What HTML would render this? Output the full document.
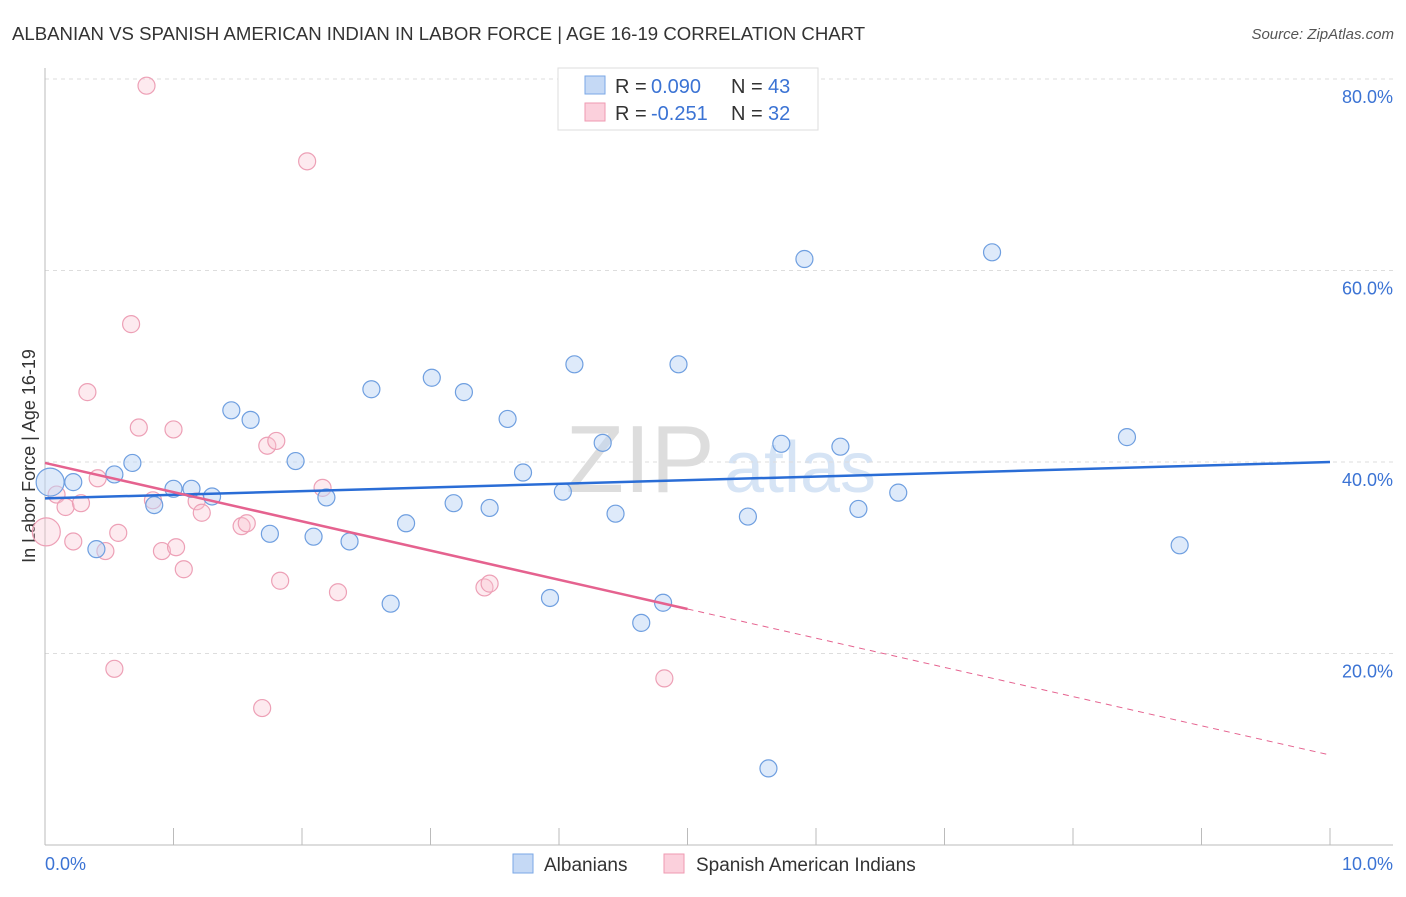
<!DOCTYPE html>
<html><head><meta charset="utf-8"><style>
body{margin:0;background:#fff;font-family:"Liberation Sans",sans-serif}
svg text{font-family:"Liberation Sans",sans-serif}
</style></head><body>
<svg id="c" width="1406" height="892" xmlns="http://www.w3.org/2000/svg">
<text x="12" y="40" font-size="18.6" fill="#333">ALBANIAN VS SPANISH AMERICAN INDIAN IN LABOR FORCE | AGE 16-19 CORRELATION CHART</text>
<text x="1394" y="39" font-size="15" fill="#555" text-anchor="end" font-style="italic">Source: ZipAtlas.com</text>
<text x="640" y="492" font-size="96" fill="#ddd" font-family="Liberation Serif" text-anchor="middle">ZIP</text>
<text x="800" y="492" font-size="72" fill="#d6e4f5" text-anchor="middle">atlas</text>
<text transform="translate(35,456) rotate(-90)" font-size="18" fill="#333" text-anchor="middle">In Labor Force | Age 16-19</text>
<g id="grid"></g><g id="pts"></g><g id="lines"></g>
<g>
<rect x="558" y="68" width="260" height="62" fill="#fff" stroke="#ddd"/>
<rect x="585" y="76" width="20" height="18" fill="#c5d9f5" stroke="#7aa7e6"/>
<rect x="585" y="103" width="20" height="18" fill="#fbd0dc" stroke="#ef9ab2"/>
<text x="615" y="93" font-size="20" fill="#333">R =</text>
<text x="651" y="93" font-size="20" fill="#3b73d4">0.090</text>
<text x="731" y="93" font-size="20" fill="#333">N =</text>
<text x="768" y="93" font-size="20" fill="#3b73d4">43</text>
<text x="615" y="120" font-size="20" fill="#333">R =</text>
<text x="651" y="120" font-size="20" fill="#3b73d4">-0.251</text>
<text x="731" y="120" font-size="20" fill="#333">N =</text>
<text x="768" y="120" font-size="20" fill="#3b73d4">32</text>
</g>
<g>
<rect x="513" y="854" width="20" height="19" fill="#c5d9f5" stroke="#7aa7e6"/>
<text x="544" y="871" font-size="19" fill="#333">Albanians</text>
<rect x="664" y="854" width="20" height="19" fill="#fbd0dc" stroke="#ef9ab2"/>
<text x="696" y="871" font-size="19" fill="#333">Spanish American Indians</text>
</g>
<text x="45" y="870" font-size="18" fill="#3b73d4">0.0%</text>
<text x="1393" y="870" font-size="18" fill="#3b73d4" text-anchor="end">10.0%</text>
</svg>
<script>
const blueX=[0.04,0.22,0.40,0.54,0.68,0.85,1.00,1.14,1.30,1.45,1.60,1.75,1.95,2.09,2.19,2.37,2.54,2.69,2.81,3.01,3.18,3.26,3.46,3.60,3.72,3.93,4.03,4.12,4.34,4.44,4.64,4.81,4.93,5.47,5.63,5.73,5.91,6.19,6.33,6.64,7.37,8.42,8.83];
const blueY=[37.9,37.9,30.9,38.7,39.9,35.5,37.2,37.2,36.4,45.4,44.4,32.5,40.1,32.2,36.3,31.7,47.6,25.2,33.6,48.8,35.7,47.3,35.2,44.5,38.9,25.8,36.9,50.2,42.0,34.6,23.2,25.3,50.2,34.3,8.0,41.9,61.2,41.6,35.1,36.8,61.9,42.6,31.3];
const pinkX=[0.79,2.04,0.67,0.33,0.73,1.00,1.73,1.80,0.41,0.09,0.16,0.28,0.84,1.18,1.22,1.53,1.57,2.16,0.22,0.57,0.47,0.91,1.02,1.08,1.83,2.28,3.42,3.46,0.54,1.69,4.82,0.01];
const pinkY=[79.3,71.4,54.4,47.3,43.6,43.4,41.7,42.2,38.3,36.6,35.3,35.7,36.0,35.9,34.7,33.3,33.6,37.3,31.7,32.6,30.7,30.7,31.1,28.8,27.6,26.4,26.9,27.3,18.4,14.3,17.4,32.7];
const yTicks=[20,40,60,80];
const yTickLabels=["20.0%","40.0%","60.0%","80.0%"];
const blueLine=[36.2,40.0];
const pinkLine=[39.9,9.4];
const pinkSolidEnd=5.0;
const NS="http://www.w3.org/2000/svg";
const xs=v=>45+v*128.5, ys=v=>845-v*9.575;
function mk(t,a,p){const e=document.createElementNS(NS,t);for(const k in a)e.setAttribute(k,a[k]);p.appendChild(e);return e;}
const g=document.getElementById('grid');
yTicks.forEach((t,i)=>{
 const l=mk('line',{x1:45,x2:1393,y1:ys(t),y2:ys(t),stroke:'#ddd','stroke-dasharray':'4,4'},g);
 
 
 const tx=mk('text',{x:1393,y:ys(t)+24,'font-size':18,fill:'#3b73d4','text-anchor':'end'},g);
 tx.textContent=yTickLabels[i];
 
 
});
const ax=mk('line',{x1:45,x2:45,y1:68,y2:845,stroke:'#bbb'},g);


const bx=mk('line',{x1:45,x2:1393,y1:845,y2:845,stroke:'#bbb'},g);


for(let i=1;i<=10;i++){const t=mk('line',{x1:xs(i),x2:xs(i),y1:828,y2:845,stroke:'#bbb'},g);
 
 }
const p=document.getElementById('pts');
pinkX.forEach((x,i)=>{const c=mk('circle',{cx:xs(x),cy:ys(pinkY[i]),r:i==31?14:8.5,fill:'rgba(248,195,210,0.35)',stroke:'#eda0b6','stroke-width':1.2},p);
 
 });
blueX.forEach((x,i)=>{const c=mk('circle',{cx:xs(x),cy:ys(blueY[i]),r:i==0?14:8.5,fill:'rgba(190,213,245,0.5)',stroke:'#6f9fe0','stroke-width':1.2},p);
 
 });
const L=document.getElementById('lines');
const b=mk('line',{x1:xs(0),y1:ys(blueLine[0]),x2:xs(10),y2:ys(blueLine[1]),stroke:'#2a6dd6','stroke-width':2.5},L);


const pe=pinkLine[0]+(pinkLine[1]-pinkLine[0])*pinkSolidEnd/10;
const ps=mk('line',{x1:xs(0),y1:ys(pinkLine[0]),x2:xs(pinkSolidEnd),y2:ys(pe),stroke:'#e5628f','stroke-width':2.5},L);


const pd=mk('line',{x1:xs(pinkSolidEnd),y1:ys(pe),x2:xs(10),y2:ys(pinkLine[1]),stroke:'#e5628f','stroke-width':1,'stroke-dasharray':'6,5'},L);


</script>
</body></html>
